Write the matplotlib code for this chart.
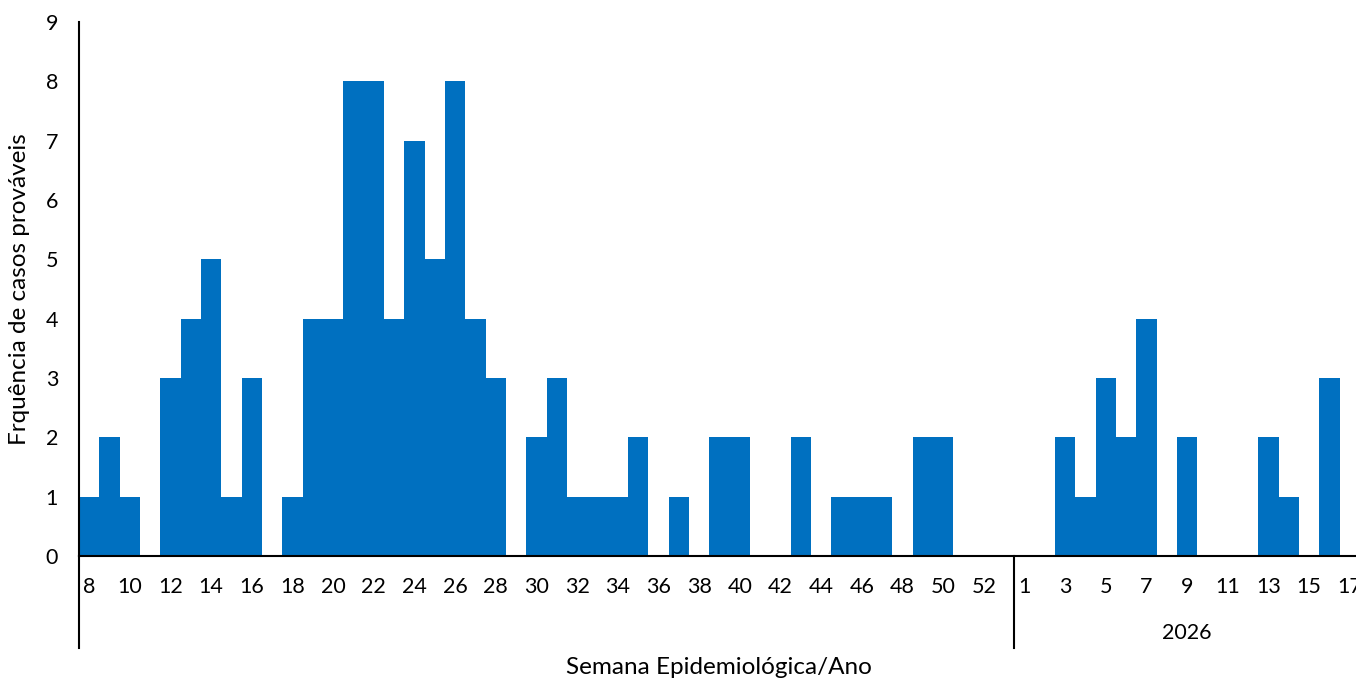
import matplotlib
matplotlib.use('Agg')
import matplotlib.pyplot as plt
import matplotlib.transforms as mtransforms

# semanas epidemiológicas: 2025 (8 a 53) e 2026 (1 a 17)
weeks_2025 = list(range(8, 54))
cases_2025 = [1, 2, 1, 0, 3, 4, 5, 1, 3, 0, 1, 4, 4, 8, 8, 4, 7, 5, 8, 4, 3, 0,
              2, 3, 1, 1, 1, 2, 0, 1, 0, 2, 2, 0, 0, 2, 0, 1, 1, 1, 0, 2, 2, 0, 0, 0]
weeks_2026 = list(range(1, 18))
cases_2026 = [0, 0, 2, 1, 3, 2, 4, 0, 2, 0, 0, 0, 2, 1, 0, 3, 0]
year_labels = ['', '2026']

weeks = weeks_2025 + weeks_2026
cases = cases_2025 + cases_2026
x = list(range(len(weeks)))
tick_labels = [str(w) if i % 2 == 0 else '' for i, w in enumerate(weeks_2025)]
tick_labels += [str(w) if i % 2 == 0 else '' for i, w in enumerate(weeks_2026)]

plt.rcParams['font.family'] = ['Lato', 'DejaVu Sans']

fig = plt.figure(figsize=(13.56, 6.81), dpi=100)
ax = fig.add_axes([79 / 1356, 125 / 681, 1 - 79 / 1356, 534 / 681])

ax.bar(x, cases, width=1.0, color='#0070C0', edgecolor='none')

ax.set_xlim(-0.5, 62.31)
ax.set_ylim(0, 9)
ax.set_yticks(range(0, 10))
ax.set_xticks(x)
ax.set_xticklabels(tick_labels)
ax.tick_params(axis='x', length=0, pad=15, labelsize=15.5)
ax.tick_params(axis='y', length=0, pad=15, labelsize=15.5)

for side in ['top', 'right']:
    ax.spines[side].set_visible(False)
ax.spines['left'].set_linewidth(1.5)
ax.spines['bottom'].set_linewidth(1.5)

# linhas de grupo (ano) abaixo do eixo
trans = mtransforms.blended_transform_factory(ax.transData, ax.transAxes)
n1 = len(weeks_2025)
for xpos in [-0.5, n1 - 0.5]:
    ax.plot([xpos, xpos], [0, -0.1723], color='black', lw=1.5,
            transform=trans, clip_on=False)

centers = [(n1 - 1) / 2, n1 + (len(weeks_2026) - 1) / 2]
for c, lab in zip(centers, year_labels):
    ax.text(c, -0.144, lab, transform=trans, ha='center', va='center', fontsize=15.5)

fig.text(20 / 1356, 1 - 289 / 681, 'Frquência de casos prováveis', rotation=90,
         ha='center', va='center', fontsize=17.5)
fig.text(719 / 1356, 1 - 668 / 681, 'Semana Epidemiológica/Ano',
         ha='center', va='center', fontsize=17.5)

fig.savefig('out.png', dpi=100)
